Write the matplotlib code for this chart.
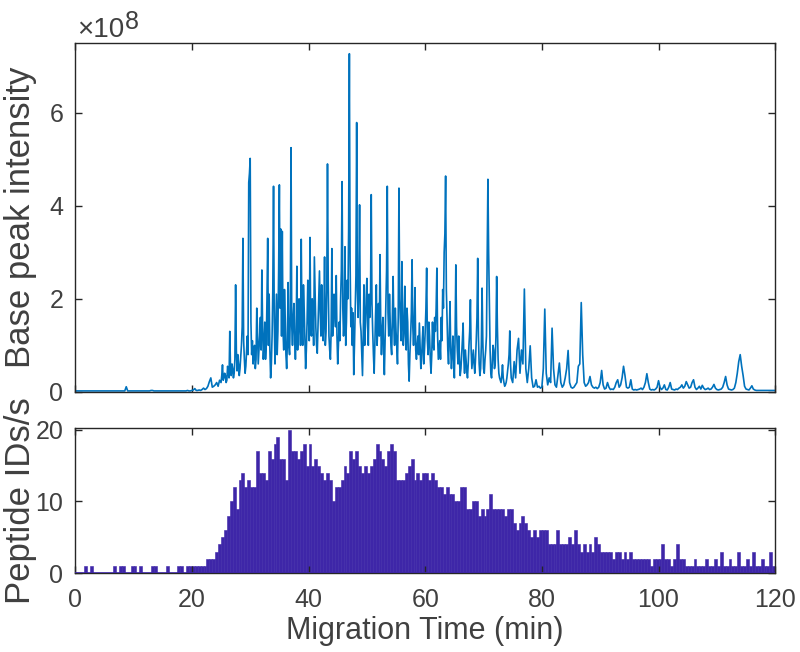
import numpy as np
import matplotlib
matplotlib.use("Agg")
import matplotlib.pyplot as plt
from matplotlib.transforms import offset_copy

# ---------------- data ----------------
# Base peak intensity (units of 1e8)
# segment A: 0 - 25 min, every 0.25 min
bpi_a_start, bpi_a_step = 0.0, 0.25
bpi_a = [
    0.02,0.02,0.02,0.02,0.02,0.02,0.02,0.02,0.02,0.02,0.02,0.02,0.02,0.02,0.02,0.02,0.02,0.02,0.02,0.02,
    0.02,0.02,0.02,0.02,0.02,0.02,0.02,0.02,0.02,0.02,0.02,0.02,0.02,0.02,0.02,0.11,0.02,0.02,0.02,0.02,
    0.02,0.02,0.02,0.02,0.02,0.02,0.02,0.02,0.02,0.02,0.02,0.02,0.03,0.03,0.02,0.02,0.02,0.02,0.02,0.02,
    0.02,0.02,0.02,0.02,0.02,0.02,0.02,0.02,0.02,0.02,0.02,0.02,0.02,0.02,0.02,0.02,0.02,0.03,0.02,0.02,
    0.03,0.04,0.07,0.03,0.03,0.04,0.03,0.05,0.08,0.05,0.07,0.12,0.22,0.30,0.10,0.12,0.15,0.20,0.12,0.25,
]
# segment B: 25 - 75 min, every 0.125 min
bpi_b_start, bpi_b_step = 25.0, 0.125
bpi_b = [
    0.20,0.35,0.58,0.25,0.30,0.40,0.35,0.20,0.25,0.55,0.45,0.30,1.30,0.50,0.35,0.60,0.50,0.30,0.40,0.70,
    2.30,0.90,0.45,0.80,0.60,0.35,0.50,0.75,1.00,1.40,3.30,1.10,0.70,0.40,0.55,0.90,1.20,0.80,4.50,4.70,
    5.02,1.50,0.80,1.10,0.60,0.85,1.00,0.50,0.70,1.80,1.30,0.60,0.90,1.20,1.60,0.90,2.62,1.40,0.70,1.00,
    1.50,0.70,1.00,2.00,3.30,1.00,2.10,0.90,0.30,0.60,1.20,2.20,4.42,1.50,0.60,1.40,2.10,0.80,1.30,2.60,
    4.45,1.80,3.50,1.20,3.45,1.30,0.90,2.20,1.60,0.80,0.50,1.10,2.35,1.00,0.80,1.70,5.25,1.40,1.00,1.60,
    1.90,1.10,0.70,1.20,2.70,0.90,1.30,2.00,1.70,1.00,3.28,1.50,1.00,2.30,1.80,1.10,0.50,0.90,1.50,2.40,
    1.60,1.10,3.32,1.40,1.20,2.00,1.80,1.00,2.90,2.10,1.40,1.00,0.83,1.40,1.90,2.60,1.70,1.20,2.30,1.30,
    1.10,1.60,2.90,1.00,1.30,2.20,4.90,2.40,1.20,0.90,0.70,1.30,3.08,1.20,1.50,2.10,2.00,1.40,2.50,1.20,
    0.60,1.00,1.50,1.10,2.00,2.60,4.52,1.80,1.20,1.60,3.12,1.00,1.50,2.40,2.00,3.50,7.27,2.80,1.40,1.80,
    1.00,1.70,0.37,1.00,1.80,2.50,5.79,2.20,1.60,2.30,4.02,1.50,1.30,0.80,0.35,1.20,2.30,1.00,1.40,2.00,
    2.44,1.50,1.00,2.10,1.60,2.00,4.24,1.90,1.30,0.80,0.40,1.10,1.70,2.30,1.00,1.40,1.90,1.20,2.95,1.50,
    0.80,1.30,1.60,0.90,0.37,1.10,1.80,2.60,4.42,1.70,1.20,2.10,1.50,1.00,0.80,1.60,2.48,1.40,1.00,1.80,
    1.30,1.00,0.60,1.60,4.38,2.00,1.50,1.10,2.80,1.60,1.00,1.40,2.27,1.20,0.90,1.80,1.50,0.60,0.23,0.80,
    1.20,1.70,2.84,1.40,1.00,1.50,2.24,0.90,0.70,1.00,1.20,0.80,1.48,1.00,0.50,0.70,1.10,1.40,0.60,0.90,
    1.30,1.80,2.66,1.10,0.80,1.50,1.20,0.70,0.40,0.80,1.50,1.00,0.90,1.60,1.30,1.80,2.66,1.20,0.70,0.90,
    1.10,0.70,1.60,1.10,2.20,1.80,3.00,3.40,4.64,2.20,1.50,0.90,0.60,1.20,1.94,0.90,0.50,0.80,1.20,0.70,
    0.30,1.20,2.73,1.40,0.90,0.60,1.20,0.70,0.35,0.50,0.80,1.10,1.48,0.70,0.40,0.90,0.70,0.45,0.30,0.60,
    1.00,1.30,1.98,0.90,0.50,0.70,0.90,0.60,0.40,0.70,1.10,1.60,2.87,1.20,0.60,0.35,0.50,1.00,2.23,1.10,
    0.50,0.40,0.70,0.90,1.20,3.00,4.57,3.00,2.00,0.90,0.40,0.30,0.60,1.00,0.90,0.50,0.60,1.20,2.48,1.40,
    0.70,0.40,0.30,0.25,0.20,0.35,0.58,0.30,0.20,0.12,0.15,0.20,0.30,0.45,0.60,0.80,1.31,0.60,0.30,0.25,
]
# segment C: 75 - 120 min, every 0.25 min
bpi_c_start, bpi_c_step = 75.0, 0.25
bpi_c = [
    0.20,0.65,0.30,0.90,1.15,0.40,0.90,0.60,2.21,0.50,0.20,0.50,0.99,0.30,0.10,0.12,0.26,0.10,0.12,0.08,
    0.10,0.50,1.78,0.40,0.15,0.30,0.20,1.37,0.50,0.15,0.10,0.35,0.62,0.20,0.10,0.15,0.30,0.50,0.89,0.20,
    0.10,0.08,0.10,0.15,0.20,0.55,0.60,1.92,0.80,0.20,0.12,0.15,0.20,0.33,0.15,0.10,0.08,0.10,0.07,0.10,
    0.20,0.46,0.15,0.06,0.08,0.20,0.10,0.05,0.06,0.05,0.10,0.20,0.26,0.10,0.15,0.30,0.55,0.35,0.10,0.08,
    0.10,0.26,0.06,0.04,0.05,0.04,0.05,0.06,0.08,0.05,0.10,0.20,0.39,0.20,0.06,0.04,0.05,0.04,0.06,0.10,
    0.24,0.10,0.05,0.08,0.15,0.05,0.04,0.10,0.20,0.06,0.05,0.04,0.06,0.05,0.08,0.10,0.15,0.08,0.12,0.22,
    0.15,0.08,0.10,0.20,0.26,0.10,0.05,0.08,0.12,0.06,0.14,0.08,0.05,0.06,0.08,0.05,0.06,0.10,0.16,0.08,
    0.05,0.04,0.05,0.06,0.10,0.20,0.33,0.15,0.06,0.05,0.04,0.05,0.08,0.20,0.40,0.65,0.80,0.55,0.35,0.12,
    0.06,0.05,0.04,0.08,0.13,0.06,0.04,0.03,0.03,0.03,0.03,0.03,0.03,0.03,0.03,0.03,0.03,0.03,0.03,0.03,
    0.03,
]

# Peptide IDs per second, bins of 0.5 min from 0 to 120 min
ids_bin = 0.5
ids_00_20 = [0,0,0,1,0,1,0,0,0,0,0,0,0,1,0,1,1,0,0,1,
             1,0,1,0,0,0,1,1,0,0,0,1,0,0,0,1,1,0,1,1]
ids_20_40 = [1,1,1,1,1,2,2,2,3,4,5,6,8,10,12,9,13,14,12,13,
             12,12,17,14,14,13,17,16,18,19,16,16,13,20,17,17,16,17,18,15]
ids_40_60 = [18,15,16,15,14,13,14,13,10,12,12,13,15,14,17,16,17,15,14,15,
             14,15,16,18,17,16,15,17,18,17,13,13,13,14,15,16,13,14,13,14]
ids_60_80 = [14,13,14,13,12,12,11,12,11,11,10,10,12,12,9,9,10,10,8,9,
             8,9,11,9,9,9,9,8,9,9,7,6,7,8,7,6,5,6,5,6]
ids_80_100 = [6,6,4,4,4,6,4,4,4,5,4,6,4,3,4,3,4,3,5,4,
              3,3,3,3,2,3,3,2,3,2,3,2,2,2,2,2,2,1,2,2]
ids_100_120 = [2,4,2,2,1,2,4,2,2,1,1,1,2,1,1,1,2,1,1,2,
               1,3,1,1,2,1,1,3,1,1,2,1,3,1,1,2,1,1,3,1]

x_ticks = [0, 20, 40, 60, 80, 100, 120]
top_yticks = [0, 2, 4, 6]
bot_yticks = [0, 10, 20]

# ---------------- styling ----------------
plt.rcParams['font.family'] = ['Liberation Sans', 'DejaVu Sans']
txt_col = '#404040'
ax_col = '#262626'
line_col = '#0072BD'
bar_col = '#3E26A8'
tick_fs = 18
xlabel_fs = 22
ylabel_fs = 25

def seg_time(start, step, vals):
    return start + np.arange(len(vals)) * step

bpi_t = np.concatenate([seg_time(bpi_a_start, bpi_a_step, bpi_a),
                        seg_time(bpi_b_start, bpi_b_step, bpi_b),
                        seg_time(bpi_c_start, bpi_c_step, bpi_c)])
bpi = np.array(bpi_a + bpi_b + bpi_c)
ids = np.array(ids_00_20 + ids_20_40 + ids_40_60 + ids_60_80 + ids_80_100 + ids_100_120)
ids_t = np.arange(len(ids)) * ids_bin

fig = plt.figure(figsize=(8, 6.52), dpi=100)
ax1 = fig.add_axes([0.094, 0.399, 0.875, 0.535])
ax2 = fig.add_axes([0.094, 0.121, 0.875, 0.223])

ax1.plot(bpi_t, bpi, color=line_col, lw=1.2)
ax1.set_xlim(0, 120)
ax1.set_ylim(0, 7.5)
ax1.set_xticks(x_ticks)
ax1.set_xticklabels([])
ax1.set_yticks(top_yticks)
ax1.set_yticklabels([str(v) for v in top_yticks])
ax1.set_ylabel('Base peak intensity', fontsize=ylabel_fs, color=txt_col)
ax1.yaxis.set_label_coords(-0.054, 0.5)

# exponent label (x10^8)
t_base = fig.text(77 / 800, 1 - 37 / 652, '\u00d710', fontsize=20, color=txt_col,
                  va='baseline', ha='left')
fig.canvas.draw()
bb = t_base.get_window_extent()
fig.text(bb.x1 / 800 + 1 / 800, 1 - 29 / 652, '8', fontsize=18, color=txt_col,
         va='baseline', ha='left')

ax2.bar(ids_t, ids, width=ids_bin, align='edge', color=bar_col, edgecolor=bar_col, linewidth=0.4)
ax2.axhline(0, color=bar_col, lw=1.2, zorder=3)
ax2.set_xlim(0, 120)
ax2.set_ylim(0, 20.3)
ax2.set_xticks(x_ticks)
ax2.set_yticks(bot_yticks)
ax2.set_xlabel('Migration Time (min)', fontsize=xlabel_fs, color=txt_col, labelpad=3)
ax2.set_ylabel('Peptide IDs/s', fontsize=ylabel_fs, color=txt_col)
ax2.yaxis.set_label_coords(-0.054, 0.5)

for ax in (ax1, ax2):
    for s in ax.spines.values():
        s.set_color(ax_col)
        s.set_linewidth(1.0)
    ax.tick_params(direction='in', top=True, right=True, length=5, width=1.0,
                   color=ax_col, labelcolor=txt_col, labelsize=tick_fs)
    ax.tick_params(axis='y', pad=8.5)
    ax.tick_params(axis='x', pad=10.5)

fig.savefig('out.png', dpi=100)
